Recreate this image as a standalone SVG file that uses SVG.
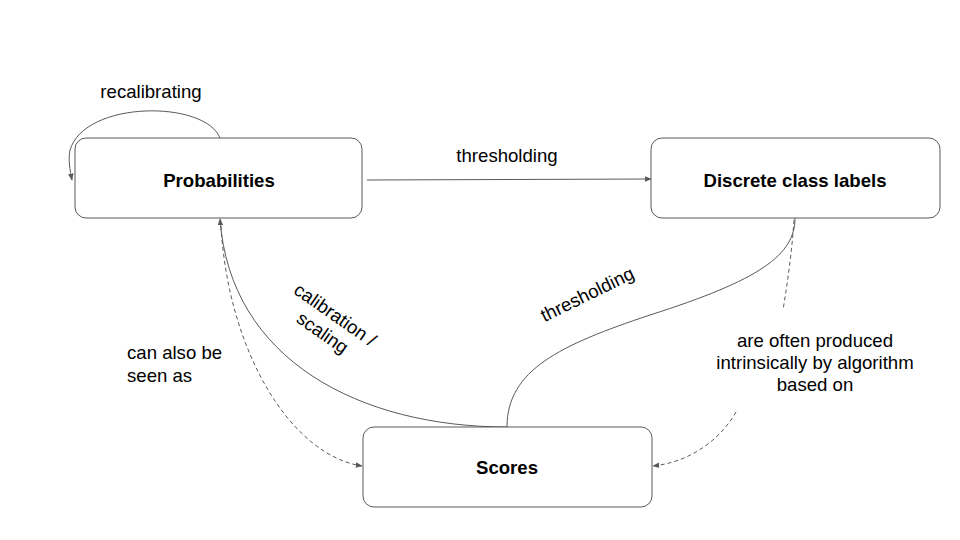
<svg xmlns="http://www.w3.org/2000/svg" width="960" height="540" viewBox="0 0 960 540">
<style>
.box{fill:#fff;stroke:#595959;stroke-width:1}
.lbl{font-family:"Liberation Sans",Arial,sans-serif;font-size:18.6px;fill:#000}
.b{font-weight:bold;text-anchor:middle}
.c{text-anchor:middle}
.e{fill:none;stroke:#595959;stroke-width:1}
.d{stroke-dasharray:4 3}
</style>
<defs>
<marker id="ah" viewBox="0 0 10 10" refX="9" refY="5" markerWidth="7" markerHeight="7" markerUnits="userSpaceOnUse" orient="auto">
<path d="M0,1 L10,5 L0,9 z" fill="#595959"/>
</marker>
</defs>
<rect width="960" height="540" fill="#fff"/>
<g id="connectors">
<path class="e" d="M220,138 C205,100 85,100 70,150 C68,160 70,170 72,180" marker-end="url(#ah)"/>
<path class="e" d="M367,180 L651,179" marker-end="url(#ah)"/>
<path class="e" d="M507,427 C360,427 230,360 220,219" marker-end="url(#ah)"/>
<path class="e" d="M507,427 C507,370 560,345 650,315 C760,280 795,255 795,218"/>
<path class="e d" d="M221,226 C228,350 290,455 362,466" marker-end="url(#ah)"/>
<path class="e d" d="M794,220 C792,250 788,280 783,310"/>
<path class="e d" d="M736,412 C720,440 690,462 653,466" marker-end="url(#ah)"/>
</g>
<g id="probabilities">
<rect class="box" x="75" y="138" width="287" height="80" rx="11"/>
<text class="lbl b" x="219" y="187">Probabilities</text>
</g>
<g id="discrete">
<rect class="box" x="651" y="138" width="289" height="80" rx="11"/>
<text class="lbl b" x="795" y="187">Discrete class labels</text>
</g>
<g id="scores">
<rect class="box" x="363" y="427" width="289" height="80" rx="11"/>
<text class="lbl b" x="507" y="474">Scores</text>
</g>
<g id="labels">
<text class="lbl c" x="151" y="98">recalibrating</text>
<text class="lbl c" x="507" y="162">thresholding</text>
<text class="lbl" x="127" y="359">can also be</text>
<text class="lbl" x="127" y="382">seen as</text>
<text class="lbl c" x="815" y="347">are often produced</text>
<text class="lbl c" x="815" y="369">intrinsically by algorithm</text>
<text class="lbl c" x="815" y="391">based on</text>
<g transform="translate(335,315) rotate(35)">
<text class="lbl c" x="0" y="6">calibration /</text>
<text class="lbl c" x="0" y="28">scaling</text>
</g>
<text class="lbl c" transform="translate(590,300) rotate(-26)">thresholding</text>
</g>
</svg>
